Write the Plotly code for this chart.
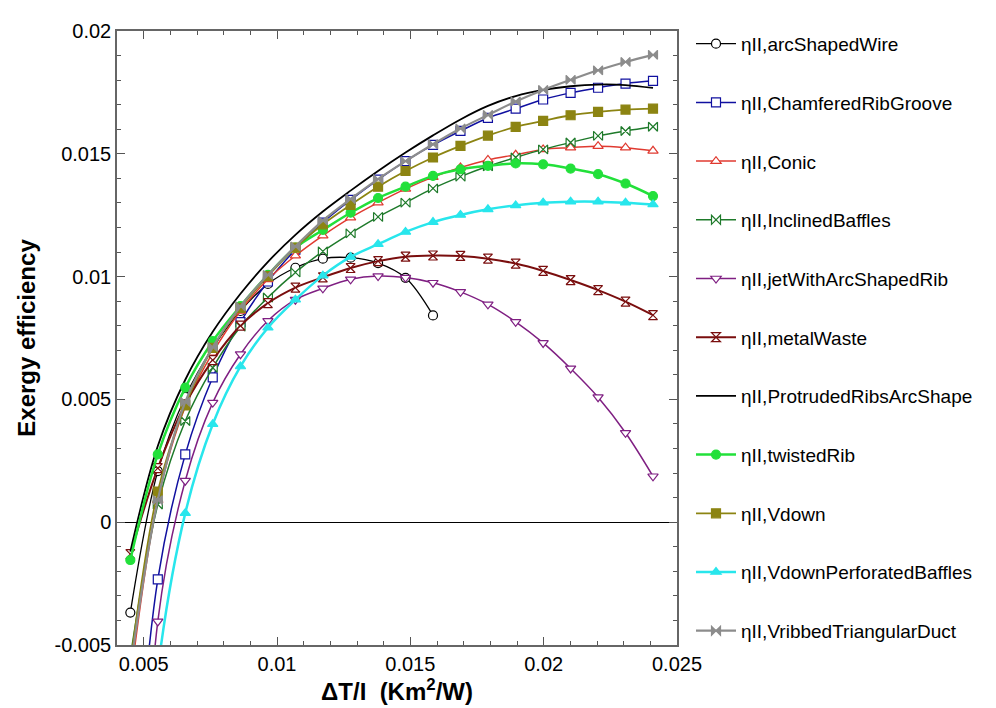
import plotly.graph_objects as go

# x values (Delta T / I, K m^2/W)
x_vals = [0.0045, 0.00553, 0.00656, 0.00759, 0.00863, 0.00966, 0.01069, 0.01172, 0.01276, 0.01379,
          0.01482, 0.01585, 0.01688, 0.01791, 0.01895, 0.01998, 0.02101, 0.02204, 0.02307, 0.0241]

# Exergy efficiency values (x 1e-3)
arc_shaped_wire = [-3.68, 2.08, 5.1, 7.1, 8.6, 9.7, 10.36, 10.73, 10.77, 10.55, 9.95, 8.42]
chamfered_rib_groove = [-14.0, -2.33, 2.76, 5.9, 8.15, 9.8, 11.1, 12.2, 13.12, 13.95, 14.7, 15.36, 15.93,
                        16.46, 16.84, 17.21, 17.48, 17.69, 17.86, 17.97]
conic = [-6.5, 0.9, 4.7, 6.9, 8.6, 9.89, 10.85, 11.67, 12.4, 13.01, 13.57, 14.05, 14.44, 14.75, 14.96,
         15.18, 15.25, 15.31, 15.25, 15.12]
inclined_baffles = [-5.5, 0.72, 4.12, 6.29, 7.96, 9.15, 10.17, 11.03, 11.76, 12.43, 13.01, 13.59, 14.07,
                    14.49, 14.85, 15.18, 15.46, 15.73, 15.93, 16.10]
jet_arc_rib = [-25.0, -4.04, 1.69, 4.87, 6.84, 8.2, 9.06, 9.52, 9.89, 10.02, 9.96, 9.75, 9.38, 8.87, 8.16,
               7.3, 6.26, 5.09, 3.64, 1.87]
metal_waste = [-1.3, 2.2, 4.8, 6.6, 8.0, 8.92, 9.55, 9.97, 10.35, 10.63, 10.81, 10.86, 10.84, 10.73, 10.53,
               10.23, 9.86, 9.45, 8.98, 8.43]
protruded_ribs = [-1.2, 3.1, 5.8, 7.75, 9.3, 10.6, 11.7, 12.65, 13.5, 14.3, 15.05, 15.75, 16.4, 16.95,
                  17.35, 17.6, 17.75, 17.82, 17.8, 17.68]
twisted_rib = [-1.54, 2.76, 5.48, 7.37, 8.8, 10.07, 11.18, 11.9, 12.6, 13.2, 13.66, 14.1, 14.37, 14.51,
               14.61, 14.57, 14.4, 14.17, 13.79, 13.28]
vdown = [-5.8, 1.25, 4.76, 7.1, 8.73, 10.02, 11.18, 12.13, 12.92, 13.66, 14.3, 14.85, 15.32, 15.74, 16.10,
         16.34, 16.57, 16.71, 16.80, 16.84]
vdown_perforated = [-20.0, -6.0, 0.37, 3.99, 6.34, 7.92, 9.06, 10.04, 10.8, 11.32, 11.82, 12.22, 12.51,
                    12.74, 12.9, 13.01, 13.05, 13.05, 13.01, 12.94]
vribbed_triangular = [-6.0, 0.9, 4.9, 7.13, 8.79, 10.07, 11.23, 12.28, 13.16, 13.97, 14.7, 15.39, 16.03,
                      16.58, 17.13, 17.60, 18.01, 18.40, 18.74, 19.03]

series_names = ["ηII,arcShapedWire", "ηII,ChamferedRibGroove", "ηII,Conic", "ηII,InclinedBaffles",
                "ηII,jetWithArcShapedRib", "ηII,metalWaste", "ηII,ProtrudedRibsArcShape", "ηII,twistedRib",
                "ηII,Vdown", "ηII,VdownPerforatedBaffles", "ηII,VribbedTriangularDuct"]
series_values = [arc_shaped_wire, chamfered_rib_groove, conic, inclined_baffles, jet_arc_rib, metal_waste,
                 protruded_ribs, twisted_rib, vdown, vdown_perforated, vribbed_triangular]

y_tick_vals = [-0.005, 0, 0.005, 0.01, 0.015, 0.02]
y_tick_text = ["-0.005", "0", "0.005", "0.01", "0.015", "0.02"]
x_tick_vals = [0.005, 0.01, 0.015, 0.02, 0.025]
x_tick_text = ["0.005", "0.01", "0.015", "0.02", "0.025"]

# style: (color, symbol, filled, width)
styles = [
    ("#000000", "circle", False, 1.3),
    ("#1010a0", "square", False, 1.5),
    ("#e03a30", "triangle-up", False, 1.5),
    ("#1e7a2a", "bowtie", False, 1.5),
    ("#7f1f82", "triangle-down", False, 1.5),
    ("#7a0e0e", "hourglass", False, 2.0),
    ("#000000", None, False, 1.8),
    ("#22e03a", "circle", True, 2.5),
    ("#8c8412", "square", True, 1.8),
    ("#28e6ec", "triangle-up", True, 2.5),
    ("#8c8c8c", "bowtie", True, 2.2),
]

fig = go.Figure()
for name, vals, (col, sym, filled, lw) in zip(series_names, series_values, styles):
    xs = x_vals[:len(vals)]
    ys = [v * 0.001 for v in vals]
    if sym is None:
        fig.add_trace(go.Scatter(x=xs, y=ys, name=name, mode="lines",
                                 line=dict(color=col, width=lw, shape="spline"),
                                 legendgroup=name))
    else:
        marker = dict(symbol=sym, size=9,
                      color=col if filled else "white",
                      line=dict(color=col, width=1.2))
        fig.add_trace(go.Scatter(x=xs, y=ys, name=name, mode="lines+markers",
                                 line=dict(color=col, width=lw, shape="spline"),
                                 marker=marker, legendgroup=name))

font_family = "Arial, Liberation Sans, sans-serif"
fig.update_layout(
    width=996, height=708,
    margin=dict(l=109, r=327, t=23, b=71),
    paper_bgcolor="white", plot_bgcolor="white",
    font=dict(family=font_family, color="black"),
    legend=dict(x=1.025, y=1.01, xanchor="left", yanchor="top",
                font=dict(size=19, family=font_family, color="black"),
                tracegroupgap=31, itemwidth=40, bgcolor="rgba(0,0,0,0)",
                maxheight=700),
    xaxis=dict(range=[0.004, 0.025], tickvals=x_tick_vals, ticktext=x_tick_text,
               ticks="inside", ticklen=8, tickcolor="#555", mirror="ticks",
               showline=True, linecolor="#666", linewidth=1.5, showgrid=False, zeroline=False,
               tickfont=dict(size=20),
               minor=dict(ticks="inside", dtick=0.001, tick0=0, ticklen=4, tickcolor="#555"),
               title=dict(text="<b>ΔT/I  (Km<sup>2</sup>/W)</b>", font=dict(size=24), standoff=8)),
    yaxis=dict(range=[-0.005, 0.02], tickvals=y_tick_vals, ticktext=y_tick_text,
               ticks="inside", ticklen=8, tickcolor="#555", mirror="ticks",
               showline=True, linecolor="#666", linewidth=1.5, showgrid=False,
               zeroline=True, zerolinecolor="black", zerolinewidth=1,
               tickfont=dict(size=20),
               minor=dict(ticks="inside", dtick=0.001, tick0=0, ticklen=4, tickcolor="#555"),
               title=dict(text="<b>Exergy efficiency</b>", font=dict(size=24), standoff=12)),
)

fig.write_html("out.html")
